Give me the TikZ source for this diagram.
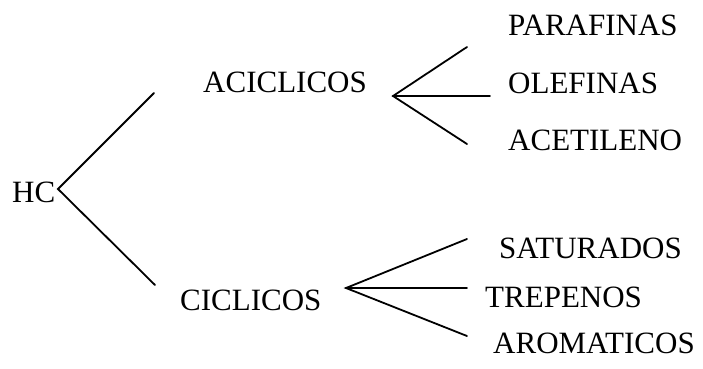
\documentclass[tikz,border=0pt]{standalone}
\usepackage{fontspec}
\setmainfont{Liberation Serif}
\begin{document}
\begin{tikzpicture}[x=1pt,y=-1pt,
  lbl/.style={anchor=base west,inner sep=0pt,font=\fontsize{31}{36}\selectfont},
  br/.style={line width=1.8pt,line cap=round}]
\useasboundingbox (0,0) rectangle (703,368);
% labels
\node[lbl] (hc) at (12,202) {HC};
\node[lbl] (acic) at (203,92) {ACICLICOS};
\node[lbl] (cic) at (180,310) {CICLICOS};
\node[lbl] (par) at (508,35) {PARAFINAS};
\node[lbl] (ole) at (508,93) {OLEFINAS};
\node[lbl] (ace) at (508,150) {ACETILENO};
\node[lbl] (sat) at (499,258) {SATURADOS};
\node[lbl] (tre) at (485,307) {TREPENOS};
\node[lbl] (aro) at (493,353) {AROMATICOS};
% vertices and ends
\coordinate (v0) at (58,189);
\coordinate (a0) at (154,93);
\coordinate (c0) at (155,285);
\coordinate (v1) at (393,96);
\coordinate (p1) at (467,47);
\coordinate (o1) at (490,96);
\coordinate (e1) at (467,144);
\coordinate (v2) at (346,288);
\coordinate (s2) at (467,239);
\coordinate (t2) at (467,288);
\coordinate (r2) at (467,336);
\draw[br] (a0) -- (v0) -- (c0);
\draw[br] (p1) -- (v1) -- (e1);
\draw[br] (v1) -- (o1);
\draw[br] (s2) -- (v2) -- (r2);
\draw[br] (v2) -- (t2);
\end{tikzpicture}
\end{document}
